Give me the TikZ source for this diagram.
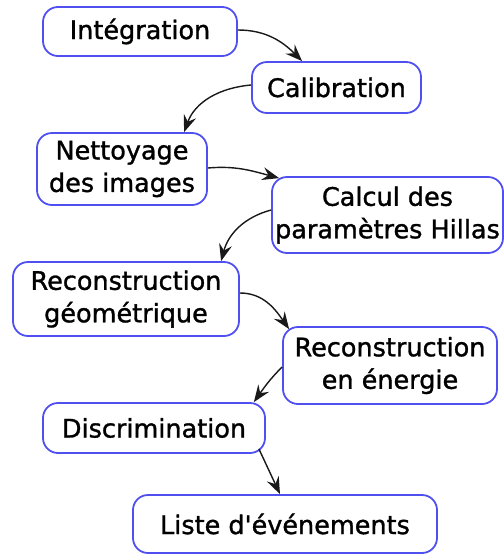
\documentclass[tikz,border=0pt]{standalone}
\usepackage{fontspec}
\setmainfont{DejaVu Sans}[BoldFont=DejaVu Sans, BoldFeatures={FakeBold=1.2}]
\usetikzlibrary{arrows.meta,calc}
\definecolor{boxblue}{RGB}{80,80,240}
\tikzset{
  stage/.style={draw=boxblue, line width=1.8pt, rounded corners=15pt, fill=white,
    align=center, inner sep=0pt, font=\fontsize{25.5}{32.5}\selectfont\bfseries},
  flow/.style={draw=black!90, line width=1.4pt,
    -{Stealth[length=17pt,width=13pt,inset=6pt]}}
}
\begin{document}
\begin{tikzpicture}[x=1pt,y=-1pt]
\useasboundingbox (0,0) rectangle (504,555);
\node[stage, minimum width=194pt, minimum height=49pt] (integ) at (140,31.5) {Intégration};
\node[stage, minimum width=169pt, minimum height=51pt] (calib) at (336.5,87.5) {Calibration};
\node[stage, minimum width=170pt, minimum height=72pt] (nett) at (122,169) {Nettoyage\\des images};
\node[stage, minimum width=231pt, minimum height=76pt] (calc) at (387.5,215) {Calcul des\\paramètres Hillas};
\node[stage, minimum width=226pt, minimum height=74pt] (recog) at (126,299) {Reconstruction\\géométrique};
\node[stage, minimum width=214pt, minimum height=77pt] (recoe) at (390,365.5) {Reconstruction\\en énergie};
\node[stage, minimum width=222pt, minimum height=50pt] (discr) at (154,428) {Discrimination};
\node[stage, minimum width=304pt, minimum height=58pt] (liste) at (285,524) {Liste d\textquotesingle événements};

\draw[flow] ([yshift=1.5pt]integ.east) to[out=0,in=135] ([xshift=51pt]calib.north west);
\draw[flow] ([yshift=2.5pt]calib.west) to[out=185,in=70] ([xshift=148pt]nett.north west);
\draw[flow] ([yshift=1pt]nett.east) to[out=5,in=165] ([xshift=8pt,yshift=-2pt]calc.north west);
\draw[flow] ([yshift=5pt]calc.west) to[out=195,in=75] ([xshift=209pt]recog.north west);
\draw[flow] ([yshift=6pt]recog.east) to[out=0,in=125] ([xshift=7pt,yshift=-3pt]recoe.north west);
\draw[flow] ([yshift=-1.5pt]recoe.west) to[out=225,in=55] ([xshift=-12pt]discr.north east);
\draw[flow] ([xshift=-7pt,yshift=5pt]discr.south east) -- ([xshift=-5pt]liste.north);
\end{tikzpicture}
\end{document}
